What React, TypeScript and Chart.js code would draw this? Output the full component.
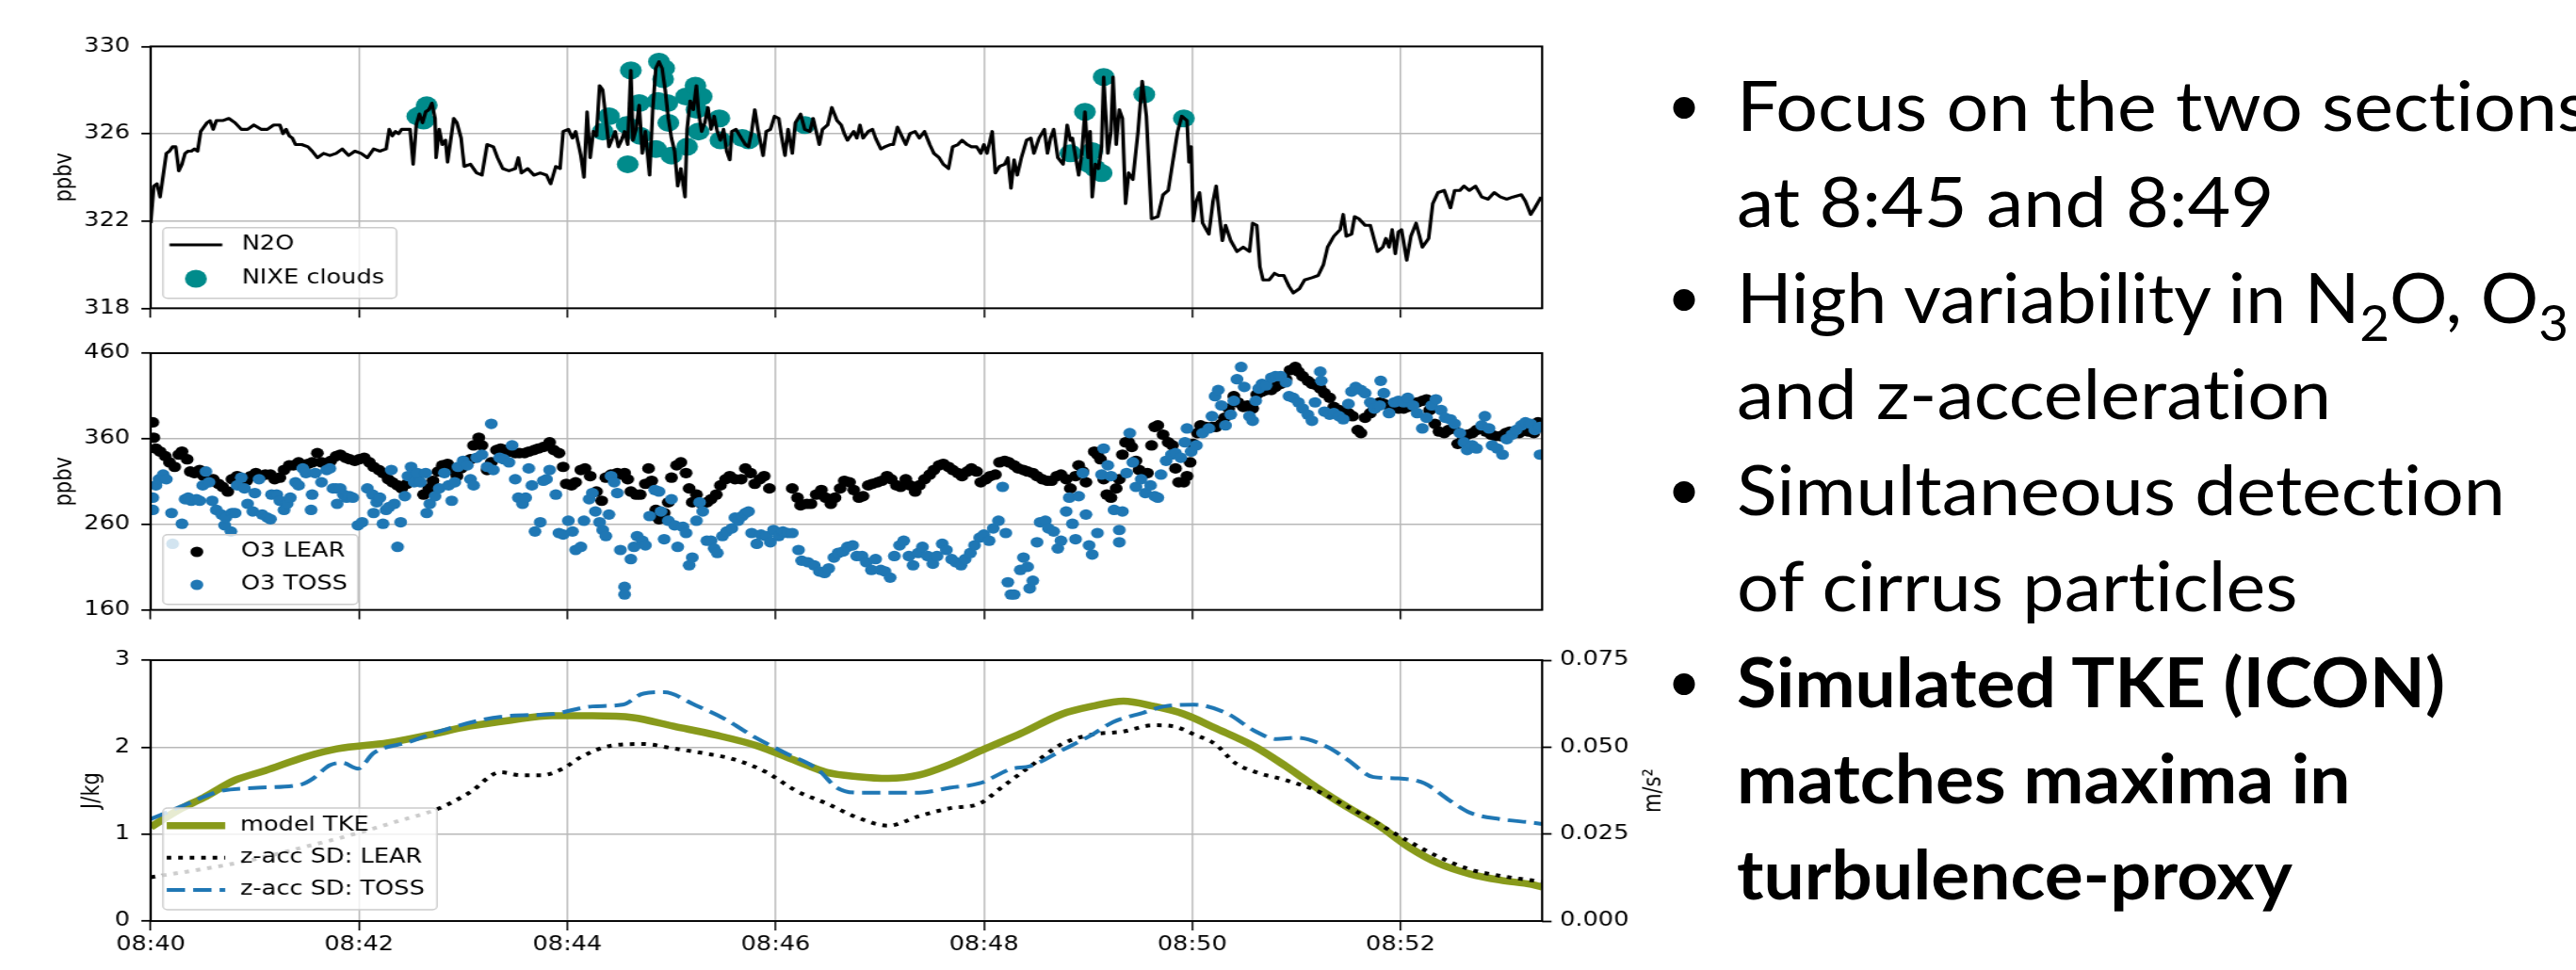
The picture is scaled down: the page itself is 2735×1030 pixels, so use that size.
import React, { useEffect, useMemo, useRef } from 'react';
import { Chart, registerables } from 'chart.js';

Chart.register(...registerables);

// ---------------- data ----------------
const X_TICKS = [0, 2, 4, 6, 8, 10, 12]; // minutes after 08:40
const X_MAX = 13.36;
const N2O_TICKS = [318, 322, 326, 330];
const O3_TICKS = [160, 260, 360, 460];
const TKE_TICKS = [0, 1, 2, 3];
const ACC_TICKS = [0, 0.025, 0.05, 0.075];

// [minutes after 08:40, ppbv]
const N2O: [number, number][] = [
  [0, 321.9], [0.03, 323.6], [0.06, 323.7], [0.09, 323.1], [0.12, 324.1], [0.15, 325.1], [0.18, 325.2], [0.21, 325.4],
  [0.24, 325.4], [0.27, 324.3], [0.30, 324.6], [0.33, 325.1], [0.36, 325.2], [0.39, 325.2], [0.42, 325.3], [0.45, 325.2],
  [0.48, 326.1], [0.51, 326.3], [0.54, 326.5], [0.57, 326.6], [0.60, 326.2], [0.63, 326.6], [0.69, 326.6], [0.75, 326.7],
  [0.81, 326.5], [0.87, 326.2], [0.93, 326.2], [0.99, 326.4], [1.06, 326.2], [1.12, 326.2], [1.18, 326.4], [1.24, 326.4],
  [1.27, 326.0], [1.30, 326.2], [1.33, 325.9], [1.36, 325.8], [1.39, 325.5], [1.45, 325.5], [1.51, 325.4], [1.55, 325.2],
  [1.60, 324.9], [1.66, 325.1], [1.72, 325.0], [1.78, 325.1], [1.84, 325.3], [1.90, 325.0], [1.96, 325.2], [2.02, 325.1],
  [2.08, 324.9], [2.14, 325.3], [2.20, 325.2], [2.26, 325.3], [2.29, 326.2], [2.32, 325.9], [2.35, 326.1], [2.38, 326.0],
  [2.41, 326.2], [2.46, 326.2], [2.49, 326.2], [2.52, 324.6], [2.55, 326.4], [2.58, 326.9], [2.61, 326.5], [2.64, 327.0],
  [2.67, 327.1], [2.70, 327.4], [2.73, 326.7], [2.74, 324.9], [2.77, 326.2], [2.80, 325.5], [2.83, 325.7], [2.85, 324.7],
  [2.88, 325.7], [2.91, 326.7], [2.94, 326.5], [2.98, 325.8], [3.01, 324.5], [3.07, 324.6], [3.13, 324.2], [3.18, 324.1],
  [3.23, 325.5], [3.29, 325.4], [3.33, 324.9], [3.38, 324.4], [3.44, 324.3], [3.50, 324.4], [3.53, 324.9], [3.56, 324.2],
  [3.62, 324.4], [3.68, 324.1], [3.74, 324.2], [3.80, 324.1], [3.84, 323.7], [3.89, 324.5], [3.93, 324.4], [3.96, 326.1],
  [4.01, 326.2], [4.05, 325.8], [4.08, 326.1], [4.13, 325.0], [4.16, 324.0], [4.19, 327.0], [4.22, 324.9], [4.25, 326.1],
  [4.28, 325.9], [4.31, 328.2], [4.34, 328.0], [4.37, 326.7], [4.40, 325.4], [4.46, 326.1], [4.49, 325.4], [4.52, 325.7],
  [4.55, 326.1], [4.58, 325.5], [4.61, 328.9], [4.63, 325.7], [4.66, 326.2], [4.69, 327.3], [4.72, 325.1], [4.75, 326.1],
  [4.79, 324.1], [4.82, 327.1], [4.85, 329.0], [4.88, 329.3], [4.91, 329.0], [4.94, 328.0], [4.97, 326.7], [5.00, 325.8],
  [5.03, 325.2], [5.06, 323.6], [5.09, 324.4], [5.13, 323.1], [5.15, 326.2], [5.18, 327.5], [5.21, 327.1], [5.24, 328.2],
  [5.26, 327.0], [5.29, 326.1], [5.32, 326.5], [5.35, 327.2], [5.38, 326.2], [5.41, 326.8], [5.44, 326.1], [5.47, 325.7],
  [5.50, 326.2], [5.53, 325.2], [5.56, 324.8], [5.58, 326.1], [5.62, 326.2], [5.67, 325.8], [5.71, 325.5], [5.74, 325.4],
  [5.77, 326.1], [5.80, 327.1], [5.83, 326.2], [5.88, 325.0], [5.91, 326.1], [5.95, 326.2], [5.99, 326.8], [6.03, 326.7],
  [6.06, 325.8], [6.09, 325.0], [6.12, 326.2], [6.16, 325.1], [6.19, 326.5], [6.24, 326.9], [6.28, 326.2], [6.33, 326.1],
  [6.36, 326.7], [6.39, 326.1], [6.42, 325.5], [6.45, 326.2], [6.50, 326.4], [6.54, 327.2], [6.59, 326.6], [6.63, 326.4],
  [6.66, 326.0], [6.69, 325.7], [6.72, 325.9], [6.75, 326.1], [6.78, 325.8], [6.81, 326.4], [6.84, 325.8], [6.89, 326.1],
  [6.93, 326.2], [6.96, 325.8], [7.01, 325.3], [7.05, 325.4], [7.10, 325.5], [7.13, 325.5], [7.17, 326.3], [7.22, 325.8],
  [7.25, 325.5], [7.29, 326.0], [7.34, 326.1], [7.38, 325.8], [7.43, 326.1], [7.48, 325.5], [7.52, 325.1], [7.57, 324.9],
  [7.61, 324.6], [7.66, 324.4], [7.70, 325.4], [7.75, 325.5], [7.79, 325.7], [7.84, 325.5], [7.88, 325.4], [7.93, 325.4],
  [7.97, 325.1], [8.00, 325.5], [8.03, 325.1], [8.08, 326.1], [8.11, 324.2], [8.15, 324.5], [8.20, 324.6], [8.23, 324.9],
  [8.26, 323.5], [8.29, 324.8], [8.32, 324.1], [8.36, 324.9], [8.41, 325.7], [8.45, 325.8], [8.48, 325.1], [8.53, 325.8],
  [8.58, 326.2], [8.61, 325.1], [8.64, 325.8], [8.67, 326.2], [8.71, 324.9], [8.76, 324.6], [8.80, 326.4], [8.83, 325.7],
  [8.85, 325.8], [8.91, 324.1], [8.94, 325.1], [8.97, 327.0], [9.00, 324.9], [9.02, 326.1], [9.04, 323.1], [9.07, 324.6],
  [9.10, 324.4], [9.13, 325.4], [9.15, 328.6], [9.19, 325.1], [9.22, 326.1], [9.24, 328.6], [9.27, 325.5], [9.30, 327.1],
  [9.33, 326.7], [9.36, 322.8], [9.39, 324.2], [9.43, 323.9], [9.48, 326.1], [9.52, 328.4], [9.56, 326.8], [9.61, 322.1],
  [9.67, 322.2], [9.72, 323.2], [9.77, 323.4], [9.81, 324.6], [9.86, 326.1], [9.90, 326.8], [9.95, 326.6], [9.97, 324.7],
  [9.99, 325.4], [10.01, 322.0], [10.04, 322.9], [10.07, 323.3], [10.10, 321.9], [10.16, 321.4], [10.20, 322.9], [10.23, 323.6],
  [10.26, 322.3], [10.29, 321.1], [10.32, 321.8], [10.37, 321.1], [10.43, 320.6], [10.49, 320.8], [10.55, 320.6], [10.58, 321.9],
  [10.62, 321.8], [10.65, 319.9], [10.68, 319.3], [10.74, 319.3], [10.79, 319.6], [10.83, 319.5], [10.88, 319.5], [10.93, 319.0],
  [10.97, 318.7], [11.03, 318.9], [11.08, 319.3], [11.15, 319.4], [11.21, 319.5], [11.26, 320.0], [11.30, 320.8], [11.36, 321.3],
  [11.42, 321.6], [11.45, 322.3], [11.48, 321.3], [11.53, 321.4], [11.56, 322.2], [11.60, 322.1], [11.66, 321.8], [11.71, 321.8],
  [11.75, 321.1], [11.78, 320.6], [11.83, 320.8], [11.86, 321.2], [11.89, 320.8], [11.92, 321.6], [11.95, 320.5], [11.98, 321.5],
  [12.01, 321.6], [12.06, 320.2], [12.10, 321.3], [12.15, 321.9], [12.21, 320.8], [12.27, 321.2], [12.31, 322.8], [12.36, 323.3],
  [12.42, 323.4], [12.48, 322.6], [12.52, 323.4], [12.57, 323.4], [12.61, 323.6], [12.66, 323.4], [12.72, 323.6], [12.78, 323.1],
  [12.84, 323.0], [12.90, 323.3], [12.96, 323.1], [13.02, 323.0], [13.08, 323.1], [13.16, 323.2], [13.20, 322.9], [13.25, 322.3],
  [13.29, 322.6], [13.35, 323.1],
];

const NIXE: [number, number][] = [
  [2.56, 326.8], [2.60, 326.9], [2.65, 327.3], [2.62, 326.6], [4.34, 326.1], [4.40, 326.8], [4.57, 326.4], [4.58, 324.6],
  [4.61, 328.9], [4.69, 327.4], [4.70, 325.9], [4.85, 325.3], [4.87, 327.5], [4.88, 329.3], [4.92, 328.5], [4.93, 329.0],
  [4.96, 327.4], [4.97, 326.5], [5.00, 325.0], [5.14, 327.7], [5.15, 325.4], [5.23, 328.2], [5.24, 327.1], [5.26, 326.1],
  [5.29, 327.7], [5.46, 326.7], [5.47, 325.7], [5.68, 325.8], [5.74, 325.7], [6.28, 326.4], [8.83, 325.1], [8.97, 327.0],
  [9.01, 324.6], [9.04, 325.2], [9.07, 324.4], [9.13, 324.2], [9.15, 328.6], [9.54, 327.8], [9.92, 326.7],
];

const O3_LEAR: [number, number][] = [
  [0.02, 379.2], [0.03, 361.2], [0.05, 348.6], [0.09, 345.0], [0.14, 339.6], [0.18, 332.4], [0.23, 327.1], [0.27, 341.4],
  [0.30, 345.0], [0.35, 336.0], [0.38, 321.7], [0.42, 319.9], [0.47, 323.5], [0.51, 316.3], [0.56, 312.7], [0.60, 312.7],
  [0.65, 307.3], [0.69, 303.7], [0.74, 298.3], [0.78, 312.7], [0.83, 316.3], [0.87, 312.7], [0.92, 310.9], [0.96, 316.3],
  [1.01, 319.9], [1.06, 316.3], [1.10, 318.1], [1.15, 318.1], [1.19, 312.7], [1.24, 314.5], [1.28, 323.5], [1.33, 328.9],
  [1.37, 328.9], [1.42, 332.4], [1.46, 328.9], [1.51, 330.7], [1.55, 332.4], [1.60, 343.2], [1.64, 332.4], [1.69, 328.9],
  [1.73, 334.2], [1.78, 339.6], [1.82, 341.4], [1.87, 337.8], [1.91, 336.0], [1.96, 334.2], [2.00, 336.0], [2.05, 337.8],
  [2.10, 332.4], [2.14, 327.1], [2.19, 323.5], [2.23, 319.9], [2.28, 312.7], [2.32, 309.1], [2.37, 305.5], [2.41, 301.9],
  [2.46, 307.3], [2.50, 312.7], [2.56, 312.7], [2.62, 294.7], [2.67, 301.9], [2.71, 310.9], [2.76, 321.7], [2.80, 328.9],
  [2.85, 330.7], [2.89, 323.5], [2.94, 316.3], [2.98, 325.3], [3.03, 334.2], [3.07, 336.0], [3.10, 352.2], [3.15, 361.2],
  [3.18, 352.2], [3.23, 323.5], [3.27, 332.4], [3.32, 346.8], [3.36, 348.6], [3.41, 346.8], [3.45, 345.0], [3.50, 343.2],
  [3.54, 343.2], [3.59, 343.2], [3.63, 345.0], [3.68, 346.8], [3.72, 348.6], [3.77, 350.4], [3.83, 355.8], [3.87, 346.8],
  [3.92, 343.2], [3.96, 327.1], [3.99, 307.3], [4.04, 305.5], [4.08, 309.1], [4.13, 323.5], [4.17, 325.3], [4.22, 316.3],
  [4.28, 298.3], [4.33, 287.5], [4.37, 314.5], [4.42, 318.1], [4.43, 316.3], [4.48, 319.9], [4.52, 318.1], [4.55, 319.9],
  [4.58, 312.7], [4.61, 298.3], [4.66, 294.7], [4.70, 294.7], [4.75, 307.3], [4.78, 325.3], [4.81, 310.9], [4.85, 276.8],
  [4.88, 266.0], [4.93, 273.2], [4.97, 285.7], [5.00, 314.5], [5.05, 328.9], [5.09, 332.4], [5.14, 319.9], [5.17, 301.9],
  [5.20, 285.7], [5.24, 294.7], [5.29, 283.9], [5.34, 285.7], [5.38, 289.3], [5.43, 294.7], [5.47, 305.5], [5.52, 312.7],
  [5.56, 316.3], [5.61, 312.7], [5.67, 312.7], [5.71, 325.3], [5.76, 319.9], [5.80, 307.3], [5.85, 312.7], [5.89, 316.3],
  [5.94, 301.9], [6.16, 301.9], [6.21, 291.1], [6.24, 282.1], [6.30, 283.9], [6.34, 283.9], [6.39, 294.7], [6.44, 300.1],
  [6.48, 291.1], [6.53, 283.9], [6.57, 291.1], [6.62, 301.9], [6.66, 310.9], [6.71, 309.1], [6.75, 300.1], [6.80, 291.1],
  [6.84, 292.9], [6.89, 305.5], [6.93, 307.3], [6.98, 309.1], [7.02, 310.9], [7.07, 316.3], [7.11, 312.7], [7.16, 305.5],
  [7.20, 303.7], [7.25, 312.7], [7.29, 305.5], [7.34, 298.3], [7.38, 305.5], [7.43, 312.7], [7.48, 318.1], [7.52, 323.5],
  [7.57, 328.9], [7.61, 330.7], [7.66, 327.1], [7.70, 323.5], [7.75, 319.9], [7.79, 316.3], [7.84, 321.7], [7.88, 325.3],
  [7.93, 321.7], [7.97, 309.1], [8.02, 312.7], [8.06, 316.3], [8.11, 318.1], [8.15, 332.4], [8.20, 334.2], [8.24, 332.4],
  [8.29, 328.9], [8.33, 325.3], [8.38, 323.5], [8.42, 321.7], [8.47, 319.9], [8.51, 316.3], [8.56, 312.7], [8.61, 310.9],
  [8.65, 310.9], [8.70, 316.3], [8.74, 318.1], [8.79, 312.7], [8.83, 301.9], [8.88, 316.3], [8.91, 328.9], [8.95, 321.7],
  [8.98, 309.1], [9.06, 345.0], [9.09, 341.4], [9.12, 336.0], [9.15, 312.7], [9.18, 294.7], [9.22, 291.1], [9.27, 301.9],
  [9.30, 312.7], [9.33, 341.4], [9.36, 355.8], [9.39, 355.8], [9.42, 350.4], [9.46, 334.2], [9.49, 323.5], [9.57, 319.9],
  [9.61, 352.2], [9.64, 373.8], [9.67, 375.6], [9.72, 364.8], [9.77, 355.8], [9.81, 352.2], [9.84, 325.3], [9.87, 309.1],
  [9.92, 309.1], [9.95, 316.3], [9.98, 332.4], [10.01, 354.0], [10.05, 366.6], [10.08, 375.6], [10.13, 373.8], [10.19, 373.8],
  [10.23, 373.8], [10.28, 377.4], [10.31, 384.5], [10.35, 395.3], [10.40, 409.7], [10.44, 402.5], [10.49, 397.1], [10.53, 398.9],
  [10.58, 395.3], [10.62, 411.5], [10.67, 415.1], [10.71, 416.9], [10.76, 416.9], [10.80, 420.5], [10.85, 424.1], [10.90, 429.5],
  [10.94, 440.2], [10.99, 443.8], [11.02, 438.4], [11.06, 433.1], [11.11, 427.7], [11.15, 424.1], [11.20, 422.3], [11.23, 418.7],
  [11.27, 413.3], [11.32, 407.9], [11.36, 397.1], [11.41, 393.5], [11.45, 391.7], [11.50, 389.9], [11.54, 386.3], [11.59, 370.2],
  [11.62, 366.6], [11.66, 384.5], [11.71, 389.9], [11.75, 395.3], [11.80, 402.5], [11.84, 400.7], [11.89, 398.9], [11.94, 397.1],
  [11.98, 395.3], [12.03, 395.3], [12.07, 397.1], [12.12, 400.7], [12.16, 402.5], [12.21, 404.3], [12.25, 406.1], [12.28, 393.5],
  [12.33, 377.4], [12.37, 368.4], [12.42, 366.6], [12.46, 370.2], [12.51, 372.0], [12.55, 354.0], [12.60, 359.4], [12.64, 364.8],
  [12.69, 366.6], [12.73, 370.2], [12.78, 373.8], [12.82, 368.4], [12.87, 364.8], [12.91, 363.0], [12.96, 363.0], [13.01, 366.6],
  [13.05, 368.4], [13.10, 366.6], [13.14, 366.6], [13.19, 370.2], [13.23, 368.4], [13.28, 366.6], [13.32, 379.2],
];

const O3_TOSS: [number, number][] = [
  [0.02, 291.1], [0.02, 276.8], [0.05, 305.5], [0.08, 312.7], [0.12, 318.1], [0.15, 312.7], [0.20, 273.2], [0.21, 237.2],
  [0.30, 260.6], [0.33, 289.3], [0.36, 291.1], [0.39, 287.5], [0.44, 289.3], [0.47, 287.5], [0.50, 305.5], [0.53, 321.7],
  [0.56, 309.1], [0.59, 287.5], [0.63, 276.8], [0.68, 271.4], [0.71, 258.8], [0.72, 267.8], [0.77, 251.6], [0.78, 273.2],
  [0.81, 273.2], [0.83, 305.5], [0.87, 314.5], [0.90, 301.9], [0.93, 283.9], [0.98, 275.0], [1.00, 296.5], [1.04, 312.7],
  [1.07, 271.4], [1.12, 267.8], [1.15, 266.0], [1.16, 294.7], [1.21, 294.7], [1.24, 287.5], [1.28, 276.8], [1.31, 283.9],
  [1.34, 291.1], [1.39, 309.1], [1.42, 305.5], [1.46, 325.3], [1.49, 319.9], [1.54, 276.8], [1.55, 294.7], [1.58, 319.9],
  [1.64, 309.1], [1.69, 323.5], [1.72, 325.3], [1.75, 301.9], [1.78, 301.9], [1.79, 283.9], [1.82, 301.9], [1.85, 294.7],
  [1.88, 291.1], [1.91, 292.9], [1.94, 291.1], [1.99, 258.8], [2.03, 262.4], [2.08, 301.9], [2.13, 294.7], [2.14, 273.2],
  [2.17, 285.7], [2.20, 291.1], [2.23, 260.6], [2.26, 276.8], [2.29, 280.3], [2.31, 323.5], [2.34, 283.9], [2.37, 233.6],
  [2.40, 262.4], [2.44, 292.9], [2.47, 316.3], [2.50, 327.1], [2.53, 309.1], [2.56, 319.9], [2.59, 309.1], [2.64, 319.9],
  [2.65, 273.2], [2.68, 283.9], [2.73, 292.9], [2.77, 301.9], [2.82, 319.9], [2.86, 305.5], [2.89, 287.5], [2.92, 309.1],
  [2.95, 327.1], [3.00, 334.2], [3.04, 328.9], [3.07, 312.7], [3.10, 305.5], [3.13, 337.8], [3.18, 341.4], [3.23, 327.1],
  [3.27, 377.4], [3.29, 323.5], [3.35, 337.8], [3.39, 336.0], [3.44, 332.4], [3.47, 352.2], [3.50, 312.7], [3.53, 291.1],
  [3.57, 283.9], [3.60, 291.1], [3.63, 325.3], [3.66, 305.5], [3.69, 251.6], [3.74, 262.4], [3.77, 310.9], [3.80, 312.7],
  [3.83, 323.5], [3.89, 294.7], [3.92, 249.8], [3.96, 248.0], [4.01, 264.2], [4.05, 251.6], [4.08, 230.0], [4.13, 233.6],
  [4.16, 264.2], [4.21, 289.3], [4.24, 296.5], [4.27, 275.0], [4.31, 262.4], [4.34, 253.4], [4.37, 246.2], [4.40, 271.4],
  [4.42, 316.3], [4.45, 309.1], [4.48, 296.5], [4.51, 230.0], [4.55, 186.9], [4.55, 178.0], [4.61, 219.3], [4.64, 233.6],
  [4.67, 246.2], [4.72, 240.8], [4.75, 235.4], [4.79, 269.6], [4.84, 300.1], [4.88, 298.3], [4.90, 275.0], [4.93, 242.6],
  [4.97, 264.2], [5.00, 289.3], [5.03, 258.8], [5.06, 233.6], [5.11, 257.0], [5.14, 249.8], [5.17, 212.1], [5.20, 221.1],
  [5.24, 264.2], [5.27, 285.7], [5.30, 275.0], [5.34, 240.8], [5.38, 240.8], [5.41, 231.8], [5.44, 226.5], [5.49, 246.2],
  [5.53, 251.6], [5.58, 255.2], [5.61, 267.8], [5.64, 264.2], [5.68, 269.6], [5.71, 273.2], [5.74, 275.0], [5.77, 249.8],
  [5.82, 237.2], [5.86, 248.0], [5.91, 246.2], [5.95, 239.0], [5.98, 253.4], [6.03, 246.2], [6.07, 251.6], [6.12, 249.8],
  [6.16, 249.8], [6.22, 230.0], [6.25, 217.5], [6.31, 215.7], [6.37, 212.1], [6.42, 204.9], [6.47, 203.1], [6.51, 208.5],
  [6.56, 221.1], [6.60, 226.5], [6.65, 228.3], [6.69, 233.6], [6.74, 235.4], [6.78, 222.9], [6.83, 222.9], [6.87, 215.7],
  [6.92, 206.7], [6.96, 219.3], [7.01, 206.7], [7.05, 204.9], [7.10, 197.7], [7.14, 222.9], [7.19, 235.4], [7.23, 240.8],
  [7.28, 222.9], [7.32, 212.1], [7.37, 226.5], [7.41, 233.6], [7.46, 222.9], [7.51, 213.9], [7.55, 222.9], [7.60, 237.2],
  [7.64, 230.0], [7.69, 219.3], [7.73, 215.7], [7.78, 212.1], [7.82, 219.3], [7.87, 226.5], [7.91, 235.4], [7.96, 244.4],
  [8.00, 248.0], [8.05, 240.8], [8.09, 255.2], [8.14, 264.2], [8.18, 303.7], [8.21, 249.8], [8.23, 192.3], [8.26, 178.0],
  [8.29, 178.0], [8.35, 206.7], [8.38, 221.1], [8.42, 210.3], [8.44, 185.1], [8.47, 194.1], [8.51, 239.0], [8.54, 262.4],
  [8.59, 264.2], [8.62, 255.2], [8.67, 251.6], [8.71, 231.8], [8.74, 240.8], [8.79, 275.0], [8.82, 291.1], [8.85, 260.6],
  [8.88, 242.6], [8.91, 292.9], [8.95, 319.9], [8.98, 271.4], [9.01, 235.4], [9.04, 224.7], [9.09, 249.8], [9.13, 318.1],
  [9.15, 348.6], [9.19, 328.9], [9.22, 316.3], [9.25, 276.8], [9.30, 253.4], [9.30, 239.0], [9.33, 275.0], [9.37, 319.9],
  [9.40, 366.6], [9.43, 332.4], [9.46, 303.7], [9.51, 312.7], [9.55, 296.5], [9.60, 305.5], [9.64, 292.9], [9.67, 291.1],
  [9.70, 318.1], [9.75, 334.2], [9.80, 341.4], [9.84, 343.2], [9.89, 337.8], [9.93, 355.8], [9.95, 372.0], [9.99, 345.0],
  [10.04, 352.2], [10.10, 366.6], [10.16, 372.0], [10.19, 386.3], [10.22, 409.7], [10.25, 416.9], [10.28, 398.9], [10.32, 375.6],
  [10.37, 388.1], [10.40, 404.3], [10.43, 429.5], [10.47, 443.8], [10.50, 420.5], [10.55, 386.3], [10.58, 381.0], [10.61, 404.3],
  [10.64, 418.7], [10.67, 424.1], [10.71, 422.3], [10.76, 431.3], [10.80, 433.1], [10.85, 433.1], [10.90, 425.9], [10.93, 409.7],
  [10.97, 407.9], [11.02, 402.5], [11.06, 395.3], [11.11, 388.1], [11.15, 381.0], [11.18, 402.5], [11.23, 438.4], [11.24, 427.7],
  [11.27, 391.7], [11.32, 388.1], [11.36, 389.9], [11.41, 386.3], [11.45, 382.7], [11.50, 400.7], [11.53, 415.1], [11.57, 420.5],
  [11.62, 416.9], [11.66, 413.3], [11.71, 402.5], [11.75, 395.3], [11.80, 398.9], [11.81, 427.7], [11.84, 413.3], [11.89, 389.9],
  [11.94, 402.5], [11.98, 404.3], [12.03, 402.5], [12.07, 407.9], [12.12, 398.9], [12.16, 389.9], [12.21, 372.0], [12.25, 384.5],
  [12.30, 398.9], [12.34, 406.1], [12.39, 393.5], [12.43, 384.5], [12.48, 382.7], [12.52, 377.4], [12.57, 366.6], [12.61, 355.8],
  [12.64, 346.8], [12.69, 352.2], [12.73, 348.6], [12.78, 375.6], [12.81, 386.3], [12.85, 372.0], [12.88, 352.2], [12.93, 348.6],
  [12.98, 341.4], [13.02, 359.4], [13.07, 364.8], [13.11, 370.2], [13.16, 375.6], [13.20, 379.2], [13.25, 377.4], [13.29, 370.2],
  [13.34, 341.4], [13.34, 373.8],
];

// model TKE [min, J/kg]
const TKE: [number, number][] = [
  [0, 1.08], [0.27, 1.28], [0.51, 1.42], [0.81, 1.62], [1.10, 1.73], [1.49, 1.89], [1.79, 1.98], [2.28, 2.05],
  [2.67, 2.14], [3.06, 2.24], [3.46, 2.31], [3.85, 2.36], [4.24, 2.36], [4.63, 2.34], [5.02, 2.24], [5.42, 2.14],
  [5.81, 2.02], [6.20, 1.84], [6.49, 1.71], [6.79, 1.66], [7.08, 1.64], [7.38, 1.68], [7.67, 1.80], [8.01, 1.98],
  [8.36, 2.16], [8.75, 2.38], [9.04, 2.47], [9.34, 2.53], [9.63, 2.47], [9.92, 2.38], [10.22, 2.22], [10.61, 2.00],
  [10.90, 1.78], [11.20, 1.53], [11.49, 1.31], [11.79, 1.10], [12.08, 0.85], [12.37, 0.66], [12.67, 0.54], [12.96, 0.47],
  [13.26, 0.42], [13.36, 0.39],
];

// z-acceleration SD [min, m/s²]
const ACC_LEAR: [number, number][] = [
  [0, 0.0126], [0.51, 0.0150], [0.96, 0.0175], [1.57, 0.0220], [1.93, 0.0248], [2.35, 0.0285], [2.77, 0.0324], [3.06, 0.0369],
  [3.36, 0.0428], [3.55, 0.0419], [3.75, 0.0419], [3.95, 0.0437], [4.14, 0.0473], [4.44, 0.0505], [4.73, 0.0509], [5.02, 0.0496],
  [5.32, 0.0482], [5.61, 0.0464], [5.91, 0.0428], [6.20, 0.0374], [6.49, 0.0338], [6.79, 0.0297], [7.08, 0.0274], [7.38, 0.0302],
  [7.67, 0.0324], [7.96, 0.0338], [8.16, 0.0382], [8.45, 0.0446], [8.75, 0.0509], [9.04, 0.0536], [9.34, 0.0545], [9.63, 0.0563],
  [9.83, 0.0559], [10.02, 0.0536], [10.22, 0.0509], [10.41, 0.0455], [10.61, 0.0428], [10.90, 0.0405], [11.20, 0.0374], [11.49, 0.0329],
  [11.79, 0.0279], [12.08, 0.0229], [12.37, 0.0184], [12.67, 0.0148], [12.96, 0.0130], [13.26, 0.0117], [13.36, 0.0113],
];

const ACC_TOSS: [number, number][] = [
  [0, 0.0293], [0.36, 0.0338], [0.66, 0.0373], [1.02, 0.0383], [1.45, 0.0393], [1.56, 0.0410], [1.72, 0.0448], [1.84, 0.0455],
  [1.99, 0.0438], [2.14, 0.0483], [2.47, 0.0514], [2.77, 0.0545], [3.16, 0.0577], [3.46, 0.0590], [3.85, 0.0595], [4.24, 0.0617],
  [4.53, 0.0622], [4.73, 0.0654], [4.93, 0.0658], [5.22, 0.0622], [5.51, 0.0581], [5.81, 0.0527], [6.10, 0.0482], [6.40, 0.0437],
  [6.59, 0.0383], [6.79, 0.0369], [7.08, 0.0369], [7.38, 0.0369], [7.67, 0.0383], [7.96, 0.0396], [8.26, 0.0437], [8.45, 0.0446],
  [8.75, 0.0491], [9.04, 0.0536], [9.24, 0.0572], [9.53, 0.0599], [9.73, 0.0617], [10.02, 0.0622], [10.32, 0.0599], [10.61, 0.0545],
  [10.81, 0.0523], [11.00, 0.0527], [11.30, 0.0500], [11.49, 0.0464], [11.74, 0.0414], [11.98, 0.0410], [12.23, 0.0396], [12.47, 0.0347],
  [12.67, 0.0311], [12.96, 0.0293], [13.26, 0.0283], [13.36, 0.0279],
];

type Seg = { t: string; sub?: boolean };
const TEXT_LINES: { segs: Seg[]; bullet: boolean; bold: boolean; fit?: number }[] = [
  { segs: [{ t: 'Focus on the two sections' }], bullet: true, bold: false },
  { segs: [{ t: 'at 8:45 and 8:49' }], bullet: false, bold: false },
  { segs: [{ t: 'High variability in N' }, { t: '2', sub: true }, { t: 'O, O' }, { t: '3', sub: true }], bullet: true, bold: false, fit: 883 },
  { segs: [{ t: 'and z-acceleration' }], bullet: false, bold: false },
  { segs: [{ t: 'Simultaneous detection' }], bullet: true, bold: false },
  { segs: [{ t: 'of cirrus particles' }], bullet: false, bold: false },
  { segs: [{ t: 'Simulated TKE (ICON)' }], bullet: true, bold: true },
  { segs: [{ t: 'matches maxima in' }], bullet: false, bold: true },
  { segs: [{ t: 'turbulence-proxy' }], bullet: false, bold: true },
];

// ---------------- layout / style ----------------
const S = 1.22; // horizontal stretch of the pasted figure
const CW = 1475; // canvas css width before stretch
const fx = (v: number) => v / S;
const PLOT_L = fx(160);
const PLOT_R = fx(1637.3);
const RIGHT_W = CW - PLOT_R;
const FONT = "'DejaVu Sans', sans-serif";
const TICK_FONT = { family: FONT, size: 21 };
const GRID = '#b8b8b8';
const TEAL = '#008b8b';
const BLUE = '#1f77b4';
const OLIVE = '#889a1b';

const fmtTime = (v: number) => `08:${String(40 + v).padStart(2, '0')}`;
const pts = (a: [number, number][]) => a.map(([x, y]) => ({ x, y }));

function xScale(showLabels: boolean, height: number) {
  return {
    type: 'linear',
    position: 'bottom',
    min: 0,
    max: X_MAX,
    afterBuildTicks: (s: any) => {
      s.ticks = X_TICKS.map((v) => ({ value: v }));
    },
    afterFit: (s: any) => {
      s.height = height;
    },
    grid: { color: GRID, lineWidth: 1.4, tickLength: 10, tickColor: '#000', tickWidth: 1.5 },
    border: { display: false },
    ticks: {
      display: showLabels,
      font: TICK_FONT,
      color: '#000',
      padding: 3,
      maxRotation: 0,
      autoSkip: false,
      callback: (v: any) => fmtTime(Number(v)),
    },
  };
}

function yScale(min: number, max: number, ticks: number[], title: string, titlePad: number) {
  return {
    type: 'linear',
    position: 'left',
    min,
    max,
    afterBuildTicks: (s: any) => {
      s.ticks = ticks.map((v) => ({ value: v }));
    },
    afterFit: (s: any) => {
      s.width = PLOT_L;
    },
    grid: { color: GRID, lineWidth: 1.6, tickLength: fx(10), tickColor: '#000', tickWidth: 1.8 },
    border: { display: false },
    ticks: { font: TICK_FONT, color: '#000', padding: 9.8, callback: (v: any) => String(v) },
    title: { display: true, text: title, font: TICK_FONT, color: '#000', padding: { top: titlePad, bottom: 0 } },
  };
}

const framePlugin = {
  id: 'mplFrame',
  afterDatasetsDraw(chart: any) {
    const { ctx, chartArea: a } = chart;
    ctx.save();
    ctx.strokeStyle = '#000';
    ctx.lineWidth = 1.9;
    ctx.strokeRect(a.left, a.top, a.right - a.left, a.bottom - a.top);
    ctx.restore();
  },
};

type LegItem = {
  label: string;
  kind: 'line' | 'point';
  color: string;
  y: number;
  width?: number;
  dash?: number[];
  r?: number;
};
function legendPlugin(box: { x: number; y: number; w: number; h: number }, items: LegItem[], hx1: number, hx2: number, tx: number) {
  return {
    id: 'mplLegend',
    afterDraw(chart: any) {
      const ctx = chart.ctx;
      ctx.save();
      ctx.beginPath();
      if (ctx.roundRect) ctx.roundRect(box.x, box.y, box.w, box.h, 4);
      else ctx.rect(box.x, box.y, box.w, box.h);
      ctx.fillStyle = 'rgba(255,255,255,0.8)';
      ctx.fill();
      ctx.strokeStyle = '#cccccc';
      ctx.lineWidth = 1.4;
      ctx.stroke();
      for (const it of items) {
        if (it.kind === 'line') {
          ctx.beginPath();
          ctx.setLineDash(it.dash || []);
          ctx.lineCap = 'butt';
          ctx.lineWidth = it.width || 2;
          ctx.strokeStyle = it.color;
          ctx.moveTo(hx1, it.y);
          ctx.lineTo(hx2, it.y);
          ctx.stroke();
          ctx.setLineDash([]);
        } else {
          ctx.beginPath();
          ctx.fillStyle = it.color;
          ctx.arc((hx1 + hx2) / 2, it.y, it.r || 5, 0, Math.PI * 2);
          ctx.fill();
        }
        ctx.fillStyle = '#000';
        ctx.font = `21px ${FONT}`;
        ctx.textBaseline = 'middle';
        ctx.textAlign = 'left';
        ctx.fillText(it.label, tx, it.y);
      }
      ctx.restore();
    },
  };
}

function rightTitlePlugin(text: string, cx: number) {
  return {
    id: 'rightTitle',
    afterDraw(chart: any) {
      const { ctx, chartArea: a } = chart;
      ctx.save();
      ctx.translate(cx, (a.top + a.bottom) / 2);
      ctx.rotate(-Math.PI / 2);
      ctx.fillStyle = '#000';
      ctx.font = `21px ${FONT}`;
      ctx.textAlign = 'center';
      ctx.textBaseline = 'middle';
      ctx.fillText(text, 0, 0);
      ctx.restore();
    },
  };
}

const baseOptions = {
  animation: false,
  responsive: false,
  devicePixelRatio: 1,
  events: [],
};

function cfgN2O(): any {
  return {
    type: 'scatter',
    data: {
      datasets: [
        {
          label: 'N2O',
          data: pts(N2O),
          showLine: true,
          borderColor: '#000',
          borderWidth: 3.1,
          pointRadius: 0,
          pointHoverRadius: 0,
          borderJoinStyle: 'round',
          order: 0,
        },
        {
          label: 'NIXE clouds',
          data: pts(NIXE),
          pointRadius: 9.5,
          pointHoverRadius: 9.5,
          backgroundColor: TEAL,
          borderWidth: 0,
          order: 1,
        },
      ],
    },
    options: {
      ...baseOptions,
      layout: { padding: { left: 0, right: RIGHT_W, top: 29.3, bottom: 10.7 } },
      scales: { x: xScale(false, 12), y: yScale(318, 330, N2O_TICKS, 'ppbv', 44) },
      plugins: { legend: { display: false }, tooltip: { enabled: false } },
    },
    plugins: [
      framePlugin,
      legendPlugin(
        { x: fx(173), y: 221.7, w: fx(248), h: 75 },
        [
          { label: 'N2O', kind: 'line', color: '#000', width: 3.1, y: 240 },
          { label: 'NIXE clouds', kind: 'point', color: TEAL, r: 9.5, y: 276 },
        ],
        fx(180),
        fx(236),
        fx(256.7)
      ),
    ],
  };
}

function cfgO3(): any {
  return {
    type: 'scatter',
    data: {
      datasets: [
        { label: 'O3 LEAR', data: pts(O3_LEAR), pointRadius: 5.6, pointHoverRadius: 5.6, backgroundColor: '#000', borderWidth: 0, order: 1 },
        { label: 'O3 TOSS', data: pts(O3_TOSS), pointRadius: 5.6, pointHoverRadius: 5.6, backgroundColor: BLUE, borderWidth: 0, order: 0 },
      ],
    },
    options: {
      ...baseOptions,
      layout: { padding: { left: 0, right: RIGHT_W, top: 23, bottom: 4.7 } },
      scales: { x: xScale(false, 12), y: yScale(160, 460, O3_TICKS, 'ppbv', 44) },
      plugins: { legend: { display: false }, tooltip: { enabled: false } },
    },
    plugins: [
      framePlugin,
      legendPlugin(
        { x: fx(173), y: 215.7, w: fx(207), h: 74 },
        [
          { label: 'O3 LEAR', kind: 'point', color: '#000', r: 5.6, y: 234 },
          { label: 'O3 TOSS', kind: 'point', color: BLUE, r: 5.6, y: 269 },
        ],
        fx(182),
        fx(236),
        fx(256)
      ),
    ],
  };
}

function cfgTKE(): any {
  return {
    type: 'scatter',
    data: {
      datasets: [
        {
          label: 'model TKE',
          data: pts(TKE),
          yAxisID: 'y',
          showLine: true,
          borderColor: OLIVE,
          borderWidth: 7.5,
          pointRadius: 0,
          pointHoverRadius: 0,
          cubicInterpolationMode: 'monotone',
          order: 2,
        },
        {
          label: 'z-acc SD: LEAR',
          data: pts(ACC_LEAR),
          yAxisID: 'y2',
          showLine: true,
          borderColor: '#000',
          borderWidth: 4,
          borderDash: [4, 6],
          pointRadius: 0,
          pointHoverRadius: 0,
          cubicInterpolationMode: 'monotone',
          order: 1,
        },
        {
          label: 'z-acc SD: TOSS',
          data: pts(ACC_TOSS),
          yAxisID: 'y2',
          showLine: true,
          borderColor: BLUE,
          borderWidth: 4,
          borderDash: [16, 7],
          pointRadius: 0,
          pointHoverRadius: 0,
          cubicInterpolationMode: 'monotone',
          order: 0,
        },
      ],
    },
    options: {
      ...baseOptions,
      layout: { padding: { left: 0, right: 0, top: 26, bottom: 12 } },
      scales: {
        x: xScale(true, 40),
        y: yScale(0, 3, TKE_TICKS, 'J/kg', 67.7),
        y2: {
          type: 'linear',
          position: 'right',
          min: 0,
          max: 0.075,
          afterBuildTicks: (s: any) => {
            s.ticks = ACC_TICKS.map((v) => ({ value: v }));
          },
          afterFit: (s: any) => {
            s.width = RIGHT_W;
          },
          grid: { drawOnChartArea: false, tickLength: fx(10), tickColor: '#000', tickWidth: 1.8 },
          border: { display: false },
          ticks: { font: TICK_FONT, color: '#000', padding: 7.2, callback: (v: any) => Number(v).toFixed(3) },
        },
      },
      plugins: { legend: { display: false }, tooltip: { enabled: false } },
    },
    plugins: [
      framePlugin,
      rightTitlePlugin('m/s²', fx(1756)),
      legendPlugin(
        { x: fx(173), y: 183, w: fx(291), h: 108 },
        [
          { label: 'model TKE', kind: 'line', color: OLIVE, width: 7.5, y: 201.7 },
          { label: 'z-acc SD: LEAR', kind: 'line', color: '#000', width: 4, dash: [4, 6], y: 235.7 },
          { label: 'z-acc SD: TOSS', kind: 'line', color: BLUE, width: 4, dash: [16, 7], y: 270 },
        ],
        fx(177),
        fx(239),
        fx(255)
      ),
    ],
  };
}

const PANELS = [
  { top: 20, height: 330, cfg: cfgN2O },
  { top: 352, height: 318, cfg: cfgO3 },
  { top: 675, height: 355, cfg: cfgTKE },
];

// text block
const TEXT_FONT = "Lato, 'Open Sans', 'Noto Sans', sans-serif";
const TEXT_SIZE = 73;
const SUB_SIZE = 52;
const SUB_DY = 19;
const TEXT_X = 1844;
const BULLET_X = 1788;
const BASE0 = 139;
const LINE_STEP = 102;
const NO_LIG: any = { fontVariantLigatures: 'none', fontFeatureSettings: '"liga" 0, "clig" 0' };

function measureDom(text: string, weight: number, size: number = TEXT_SIZE) {
  try {
    const el = document.createElement('span');
    el.textContent = text;
    Object.assign(el.style, {
      position: 'absolute',
      left: '-9999px',
      top: '0px',
      whiteSpace: 'pre',
      fontFamily: TEXT_FONT,
      fontSize: `${size}px`,
      fontWeight: String(weight),
      fontVariantLigatures: 'none',
      fontFeatureSettings: '"liga" 0, "clig" 0',
    });
    document.body.appendChild(el);
    const w = el.getBoundingClientRect().width;
    document.body.removeChild(el);
    return w;
  } catch {
    return 0;
  }
}

export default function App() {
  const refs = [useRef<HTMLCanvasElement>(null), useRef<HTMLCanvasElement>(null), useRef<HTMLCanvasElement>(null)];

  useEffect(() => {
    const charts = PANELS.map((p, i) => new Chart(refs[i].current as HTMLCanvasElement, p.cfg()));
    return () => charts.forEach((c) => c.destroy());
  }, []);

  const scales = useMemo(() => {
    const r = measureDom('Simultaneous detection', 400);
    const b = measureDom('Simulated TKE (ICON)', 700);
    const reg = r ? 816 / r : 1;
    const bold = b ? 752 / b : 1;
    return TEXT_LINES.map((ln) => {
      if (ln.fit) {
        const w = ln.segs.reduce((acc, s) => acc + measureDom(s.t, ln.bold ? 700 : 400, s.sub ? SUB_SIZE : TEXT_SIZE), 0);
        if (w > 0) return ln.fit / w;
      }
      return ln.bold ? bold : reg;
    });
  }, []);

  return (
    <div style={{ position: 'absolute', left: 0, top: 0, width: 2735, height: 1030, background: '#fff', overflow: 'hidden' }}>
      {PANELS.map((p, i) => (
        <div
          key={i}
          style={{
            position: 'absolute',
            left: 0,
            top: p.top,
            width: CW,
            height: p.height,
            transform: `scaleX(${S})`,
            transformOrigin: '0 0',
          }}
        >
          <canvas ref={refs[i]} width={CW} height={p.height} style={{ width: CW, height: p.height, display: 'block' }} />
        </div>
      ))}
      <svg width={2735} height={1030} style={{ position: 'absolute', left: 0, top: 0, pointerEvents: 'none' }}>
        {TEXT_LINES.map((ln, i) => {
          const base = BASE0 + LINE_STEP * i;
          return (
            <g key={i}>
              {ln.bullet && <circle cx={BULLET_X} cy={base - 24.5} r={11.5} fill="#000" />}
              <g transform={`translate(${TEXT_X} ${base}) scale(${scales[i]} 1)`}>
                <text x={0} y={0} fontFamily={TEXT_FONT} fontSize={TEXT_SIZE} fontWeight={ln.bold ? 700 : 400} fill="#000" style={NO_LIG}>
                  {ln.segs.map((s, j) => {
                    const prevSub = j > 0 && ln.segs[j - 1].sub;
                    const dy = s.sub ? SUB_DY : prevSub ? -SUB_DY : 0;
                    return (
                      <tspan key={j} dy={dy} fontSize={s.sub ? SUB_SIZE : TEXT_SIZE}>
                        {s.t}
                      </tspan>
                    );
                  })}
                </text>
              </g>
            </g>
          );
        })}
      </svg>
    </div>
  );
}
